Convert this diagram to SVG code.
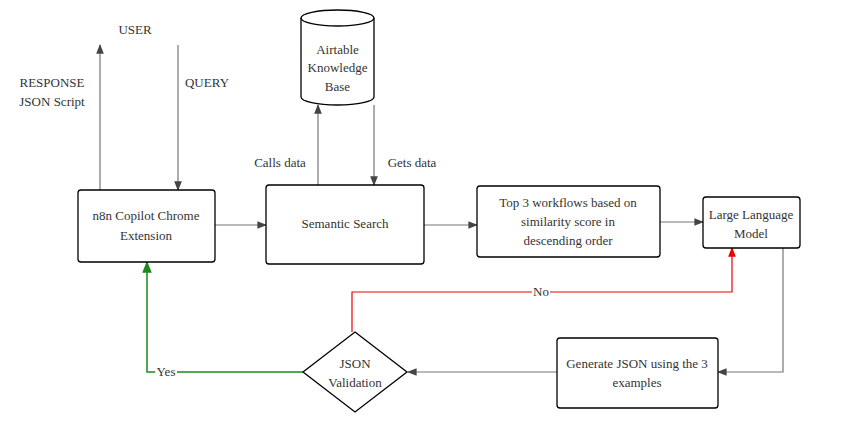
<svg xmlns="http://www.w3.org/2000/svg" width="848" height="437" viewBox="0 0 848 437">
<style>
text{font-family:"Liberation Serif","Times New Roman",serif;font-size:13px;fill:#333;text-anchor:middle}
.box{fill:#fff;stroke:#000;stroke-width:1.3}
.c{fill:none;stroke:#777;stroke-width:1.2}
</style>
<defs>
<marker id="ag" viewBox="0 0 10 10" refX="9" refY="5" markerWidth="8" markerHeight="8" orient="auto"><path d="M0,1 L10,5 L0,9 z" fill="#444"/></marker>
<marker id="ar" viewBox="0 0 10 10" refX="9" refY="5" markerWidth="8" markerHeight="8" orient="auto"><path d="M0,1 L10,5 L0,9 z" fill="#e00"/></marker>
<marker id="agr" viewBox="0 0 10 10" refX="9" refY="5" markerWidth="8" markerHeight="8" orient="auto"><path d="M0,1 L10,5 L0,9 z" fill="#1a8a1a"/></marker>
</defs>
<rect width="848" height="437" fill="#fff"/>
<g id="connectors">
<path class="c" d="M100,190 V45" marker-end="url(#ag)"/>
<path class="c" d="M178,45 V190" marker-end="url(#ag)"/>
<path class="c" d="M215,225 H266" marker-end="url(#ag)"/>
<path class="c" d="M318,185 V105" marker-end="url(#ag)"/>
<path class="c" d="M374,105 V185" marker-end="url(#ag)"/>
<path class="c" d="M424,225 H477" marker-end="url(#ag)"/>
<path class="c" d="M660,222 H703" marker-end="url(#ag)"/>
<path class="c" d="M783,248 V372 H718" marker-end="url(#ag)"/>
<path class="c" d="M557,372 H408" marker-end="url(#ag)"/>
<path d="M352,332 V292 H732 V248" fill="none" stroke="#e00" stroke-width="1.2" marker-end="url(#ar)"/>
<path d="M303,372 H147 V262" fill="none" stroke="#1a8a1a" stroke-width="1.5" marker-end="url(#agr)"/>
<rect x="532" y="285" width="18" height="14" fill="#fff"/>
<text x="541" y="296">No</text>
<rect x="155" y="365" width="22" height="14" fill="#fff"/>
<text x="166" y="376">Yes</text>
<text x="135" y="34">USER</text>
<text x="52" y="87">RESPONSE</text>
<text x="52" y="106">JSON Script</text>
<text x="207" y="87">QUERY</text>
<text x="280" y="167">Calls data</text>
<text x="412" y="167">Gets data</text>
</g>
<g id="n8n"><rect class="box" x="78" y="190" width="137" height="72" rx="3"/><text x="146" y="220">n8n Copilot Chrome</text><text x="146" y="240">Extension</text></g>
<g id="semantic"><rect class="box" x="266" y="185" width="158" height="79" rx="3"/><text x="345" y="228">Semantic Search</text></g>
<g id="airtable"><path class="box" d="M301,18 V97 A36.5,8 0 0 0 374,97 V18"/><ellipse class="box" cx="337.5" cy="18" rx="36.5" ry="8"/><text x="337.5" y="54">Airtable</text><text x="337.5" y="72">Knowledge</text><text x="337.5" y="91">Base</text></g>
<g id="top3"><rect class="box" x="477" y="186" width="183" height="71" rx="3"/><text x="568" y="207">Top 3 workflows based on</text><text x="568" y="226">similarity score in</text><text x="568" y="245">descending order</text></g>
<g id="llm"><rect class="box" x="703" y="197" width="97" height="51" rx="3"/><text x="751" y="219">Large Language</text><text x="751" y="238">Model</text></g>
<g id="generate"><rect class="box" x="557" y="338" width="161" height="70" rx="3"/><text x="637" y="368">Generate JSON using the 3</text><text x="637" y="387">examples</text></g>
<g id="validation"><path class="box" d="M355,332 L407,372 L355,412 L303,372 Z"/><text x="355" y="368">JSON</text><text x="355" y="387">Validation</text></g>
</svg>
